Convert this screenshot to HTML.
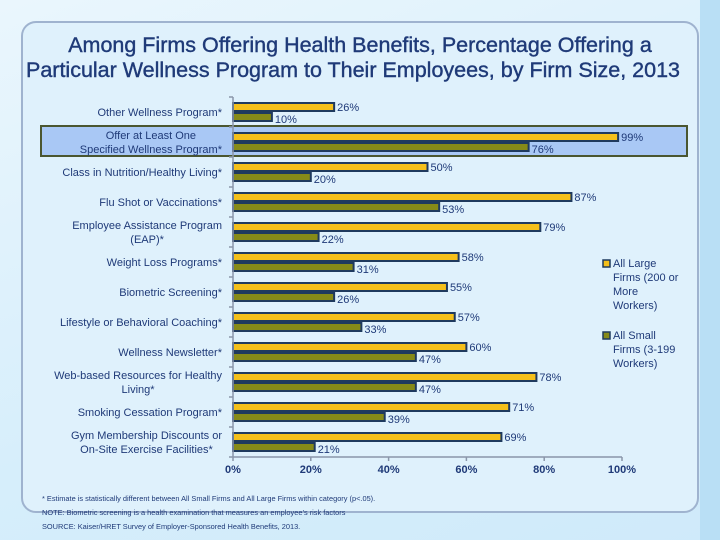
<!DOCTYPE html>
<html><head><meta charset="utf-8"><style>
body{margin:0;width:720px;height:540px;overflow:hidden;font-family:"Liberation Sans",sans-serif;}
#bg{position:absolute;left:0;top:0;width:720px;height:540px;background:linear-gradient(160deg,#eaf6fd 0%,#d6eefb 60%,#cfeafa 100%);}
</style></head><body>
<div id="bg"></div>
<svg id="chart" width="720" height="540" style="position:absolute;left:0;top:0">
<rect x="700" y="0" width="20" height="540" fill="#b9dff5"/>
<rect x="22" y="22" width="676" height="490" rx="14" fill="#dff1fc" stroke="#9fb3cf" stroke-width="2"/>
<text x="360" y="52" text-anchor="middle" font-size="21.5" fill="#1f3a78" stroke="#1f3a78" stroke-width="0.4">Among Firms Offering Health Benefits, Percentage Offering a</text>
<text x="353" y="77" text-anchor="middle" font-size="21.5" fill="#1f3a78" stroke="#1f3a78" stroke-width="0.4">Particular Wellness Program to Their Employees, by Firm Size, 2013</text>
<rect x="41" y="126" width="646" height="30" fill="#a9c8f5" stroke="#4a5630" stroke-width="2"/>
<g id="plot"></g>
<g>
<rect x="603" y="260" width="7" height="7" fill="#f5c01a" stroke="#1f3a5e" stroke-width="1.5"/>
<text font-size="11" fill="#1f3a78"><tspan x="613" y="267">All Large</tspan><tspan x="613" y="281">Firms (200 or</tspan><tspan x="613" y="295">More</tspan><tspan x="613" y="309">Workers)</tspan></text>
<rect x="603" y="332" width="7" height="7" fill="#868a18" stroke="#1f3a5e" stroke-width="1.5"/>
<text font-size="11" fill="#1f3a78"><tspan x="613" y="339">All Small</tspan><tspan x="613" y="353">Firms (3-199</tspan><tspan x="613" y="367">Workers)</tspan></text>
</g>
<text x="42" y="501" font-size="7.4" fill="#1f3a78">* Estimate is statistically different between All Small Firms and All Large Firms within category (p&lt;.05).</text>
<text x="42" y="515" font-size="7.4" fill="#1f3a78">NOTE: Biometric screening is a health examination that measures an employee’s risk factors</text>
<text x="42" y="529" font-size="7.4" fill="#1f3a78">SOURCE: Kaiser/HRET Survey of Employer-Sponsored Health Benefits, 2013.</text>
</svg>
<script>
const categories=[["Other Wellness Program*"],["Offer at Least One","Specified Wellness Program*"],["Class in Nutrition/Healthy Living*"],["Flu Shot or Vaccinations*"],["Employee Assistance Program","(EAP)*"],["Weight Loss Programs*"],["Biometric Screening*"],["Lifestyle or Behavioral Coaching*"],["Wellness Newsletter*"],["Web-based Resources for Healthy","Living*"],["Smoking Cessation Program*"],["Gym Membership Discounts or","On-Site Exercise Facilities*"]];
const largeFirms=[26,99,50,87,79,58,55,57,60,78,71,69];
const smallFirms=[10,76,20,53,22,31,26,33,47,47,39,21];
const xTicks=[0,20,40,60,80,100];
const NS="http://www.w3.org/2000/svg";
const g=document.getElementById('plot');
const x0=233,x1=622,top0=97,band=30;
const xs=v=>x0+(x1-x0)*v/100;
const yb=i=>top0+i*band;
function mk(t,a){const e=document.createElementNS(NS,t);for(const k in a)e.setAttribute(k,a[k]);g.appendChild(e);return e;}
categories.forEach((c,i)=>{
 const y=yb(i);
 const lb=mk('text',{'text-anchor':'end','font-size':'11',fill:'#1f3a78'});
 
 
 const mid=y+band/2+4;
 const spans=c.map((s,j)=>{const t=document.createElementNS(NS,'tspan');t.setAttribute('x','222');t.setAttribute('y',mid+(j-(c.length-1)/2)*14);t.textContent=s;lb.appendChild(t);return t;});
 if(c.length>1){
  let w=0;spans.forEach(t=>{w=Math.max(w,t.getComputedTextLength());});
  lb.setAttribute('text-anchor','middle');
  spans.forEach(t=>t.setAttribute('x',222-w/2));
 }
 const b1=mk('rect',{x:x0,y:y+6,width:xs(largeFirms[i])-x0,height:8,fill:'#f5c01a',stroke:'#1f3a5e','stroke-width':'2'});
 
 
 const b2=mk('rect',{x:x0,y:y+16,width:xs(smallFirms[i])-x0,height:8,fill:'#868a18',stroke:'#1f3a5e','stroke-width':'2'});
 
 
 const l1=mk('text',{x:xs(largeFirms[i])+3,y:y+14,'font-size':'11',fill:'#1f3a78'});l1.textContent=largeFirms[i]+'%';
 
 
 const l2=mk('text',{x:xs(smallFirms[i])+3,y:y+26,'font-size':'11',fill:'#1f3a78'});l2.textContent=smallFirms[i]+'%';
 
 
});
for(let i=0;i<=categories.length;i++){const t=mk('line',{x1:x0-4,x2:x0,y1:yb(i),y2:yb(i),stroke:'#8a96aa','stroke-width':'1.5'});}
const ya=mk('line',{x1:x0,x2:x0,y1:top0,y2:yb(categories.length),stroke:'#8a96aa','stroke-width':'1.5'});


const xa=mk('line',{x1:x0,x2:x1,y1:yb(categories.length),y2:yb(categories.length),stroke:'#8a96aa','stroke-width':'1.5'});


xTicks.forEach(v=>{
 const tk=mk('line',{x1:xs(v),x2:xs(v),y1:yb(categories.length),y2:yb(categories.length)+4,stroke:'#8a96aa','stroke-width':'1.5'});
 
 
 const t=mk('text',{x:xs(v),y:473,'text-anchor':'middle','font-size':'11','font-weight':'bold',fill:'#1f3a78'});t.textContent=v+'%';
 
 
});
</script>
</body></html>
